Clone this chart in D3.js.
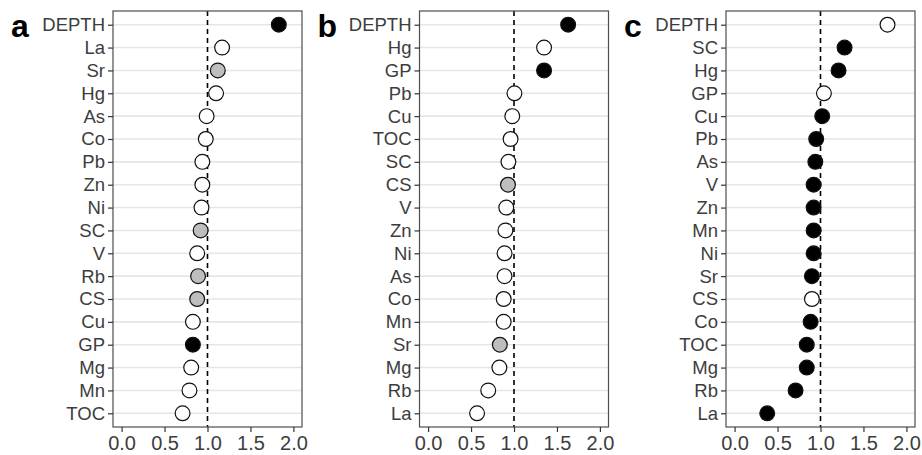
<!DOCTYPE html>
<html>
<head>
<meta charset="utf-8">
<script src="https://cdn.jsdelivr.net/npm/d3@7"></script>
<style>
    body { margin: 0; background: #fff; }
    text { font-family: "Liberation Sans", Arial, sans-serif; }
</style>
</head>
<body>
<div id="chart"></div>
<script>

// panel a
var catsA = ["DEPTH","La","Sr","Hg","As","Co","Pb","Zn","Ni","SC","V","Rb","CS","Cu","GP","Mg","Mn","TOC"];
var valsA = [1.83, 1.17, 1.12, 1.10, 0.99, 0.98, 0.94, 0.94, 0.93, 0.92, 0.88, 0.89, 0.88, 0.83, 0.83, 0.81, 0.79, 0.71];
var fillA = ["k","w","g","w","w","w","w","w","w","g","w","g","g","w","k","w","w","w"];

// panel b
var catsB = ["DEPTH","Hg","GP","Pb","Cu","TOC","SC","CS","V","Zn","Ni","As","Co","Mn","Sr","Mg","Rb","La"];
var valsB = [1.63, 1.35, 1.35, 1.005, 0.98, 0.96, 0.935, 0.93, 0.91, 0.90, 0.89, 0.89, 0.88, 0.88, 0.835, 0.83, 0.70, 0.57];
var fillB = ["k","w","k","w","w","w","w","g","w","w","w","w","w","w","g","w","w","w"];

// panel c
var catsC = ["DEPTH","SC","Hg","GP","Cu","Pb","As","V","Zn","Mn","Ni","Sr","CS","Co","TOC","Mg","Rb","La"];
var valsC = [1.78, 1.28, 1.21, 1.04, 1.02, 0.95, 0.94, 0.92, 0.92, 0.92, 0.92, 0.90, 0.90, 0.885, 0.84, 0.84, 0.71, 0.38];
var fillC = ["w","k","k","w","k","k","k","k","k","k","k","k","w","k","k","k","k","k"];

var xTicks = [0, 0.5, 1.0, 1.5, 2.0];
var panelLetters = ["a", "b", "c"];

var fillColor = {w: "#ffffff", g: "#bebebe", k: "#000000"};

var svg = d3.select("#chart").append("svg")
    .attr("width", 922)
    .attr("height", 455);

var panelW = 189, panelH = 416, panelTop = 11;
var panelLefts = [113, 419.5, 726];

function drawPanel(i, cats, vals, fills) {
    var g = svg.append("g")
        .attr("transform", "translate(" + panelLefts[i] + "," + panelTop + ")");

    var x = d3.scaleLinear().domain([-0.1, 2.1]).range([0, panelW]);
    var y = d3.scalePoint().domain(cats).range([0, panelH]).padding(0.6);

    // horizontal grid
    g.selectAll(".grid")
        .data(cats)
        .enter().append("line")
        .attr("x1", 0).attr("x2", panelW)
        .attr("y1", function(d){ return y(d); })
        .attr("y2", function(d){ return y(d); })
        .attr("stroke", "#e6e6e6")
        .attr("stroke-width", 1.6);

    // reference line at 1
    g.append("line")
        .attr("x1", x(1)).attr("x2", x(1))
        .attr("y1", 0).attr("y2", panelH)
        .attr("stroke", "#000")
        .attr("stroke-width", 1.6)
        .attr("stroke-dasharray", "5,4");

    var pts = cats.map(function(c, j){ return {cat: c, val: vals[j], fill: fills[j]}; });

    g.selectAll("circle")
        .data(pts)
        .enter().append("circle")
        .attr("cx", function(d){ return x(d.val); })
        .attr("cy", function(d){ return y(d.cat); })
        .attr("r", 7.4)
        .attr("fill", function(d){ return fillColor[d.fill]; })
        .attr("stroke", "#111")
        .attr("stroke-width", 1.2);

    // border
    g.append("rect")
        .attr("width", panelW).attr("height", panelH)
        .attr("fill", "none")
        .attr("stroke", "#4d4d4d")
        .attr("stroke-width", 1.2);

    var yAxis = d3.axisLeft(y).tickSize(5).tickPadding(3);
    var xAxis = d3.axisBottom(x).tickValues(xTicks).tickFormat(d3.format(".1f")).tickSize(5).tickPadding(4);

    var ya = g.append("g").attr("class", "axis").call(yAxis);
    var xa = g.append("g").attr("class", "axis")
        .attr("transform", "translate(0," + panelH + ")")
        .call(xAxis);

    [ya, xa].forEach(function(a){
        a.select(".domain").remove();
        a.selectAll(".tick line").attr("stroke", "#333").attr("stroke-width", 1.2);
        a.selectAll(".tick text").attr("fill", "#3d3d3d");
    });
    ya.selectAll(".tick text").style("font-size", "18.5px");
    xa.selectAll(".tick text").style("font-size", "20px");

    svg.append("text")
        .attr("x", panelLefts[i] - 102)
        .attr("y", panelTop + 26)
        .text(panelLetters[i])
        .style("font-size", "32px")
        .style("font-weight", "bold")
        .attr("fill", "#000");
}

drawPanel(0, catsA, valsA, fillA);
drawPanel(1, catsB, valsB, fillB);
drawPanel(2, catsC, valsC, fillC);

</script>
</body>
</html>
